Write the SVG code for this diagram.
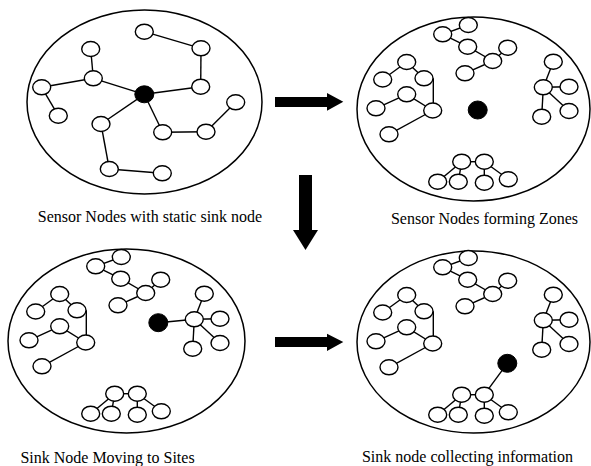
<svg xmlns="http://www.w3.org/2000/svg" width="591" height="466" viewBox="0 0 591 466">
<style>
.field{fill:none;stroke:#000;stroke-width:1.5}
.n{fill:#fff;stroke:#000;stroke-width:1.4}
.s{fill:#000;stroke:#000;stroke-width:1}
.e line{stroke:#000;stroke-width:1.4}
.arrow{fill:#000}
.lbl{font-family:"Liberation Serif","Times New Roman",serif;font-size:16px;fill:#000;text-anchor:middle}
</style>
<rect width="591" height="466" fill="#fff"/>
<!-- fields -->
<g id="fields">
<ellipse class="field" cx="144.5" cy="102" rx="117.5" ry="92"/>
<ellipse class="field" cx="473.5" cy="109" rx="116.5" ry="92"/>
<ellipse class="field" cx="126.5" cy="341" rx="118.5" ry="92"/>
<ellipse class="field" cx="473.5" cy="342" rx="116.5" ry="91"/>
</g>
<!-- connectors -->
<g id="connectors" class="e">
<!-- panel 1 -->
<line x1="144.3" y1="31.7" x2="201" y2="48.3"/>
<line x1="201" y1="48.3" x2="200.7" y2="86.7"/>
<line x1="200.7" y1="86.7" x2="144.3" y2="94.3"/>
<line x1="144.3" y1="94.3" x2="93.3" y2="78.3"/>
<line x1="93.3" y1="78.3" x2="90.7" y2="49"/>
<line x1="93.3" y1="78.3" x2="41.7" y2="87.3"/>
<line x1="41.7" y1="87.3" x2="58.3" y2="115.7"/>
<line x1="144.3" y1="94.3" x2="101" y2="124"/>
<line x1="101" y1="124" x2="109.3" y2="169"/>
<line x1="109.3" y1="169" x2="162.3" y2="173.3"/>
<line x1="144.3" y1="94.3" x2="162.7" y2="132.3"/>
<line x1="162.7" y1="132.3" x2="206" y2="131.7"/>
<line x1="206" y1="131.7" x2="235.7" y2="102.3"/>
<!-- panel 2 -->
<line x1="442.7" y1="34.3" x2="468.3" y2="25"/>
<line x1="442.7" y1="34.3" x2="467.7" y2="46.7"/>
<line x1="467.7" y1="46.7" x2="492.7" y2="61"/>
<line x1="492.7" y1="61" x2="507.7" y2="47.7"/>
<line x1="492.7" y1="61" x2="465" y2="73.3"/>
<line x1="382.7" y1="79.5" x2="406.7" y2="62"/>
<line x1="406.7" y1="62" x2="424" y2="78.3"/>
<line x1="433.3" y1="78.3" x2="433.3" y2="110.5"/>
<line x1="376" y1="108.3" x2="406.7" y2="94.3"/>
<line x1="406.7" y1="94.3" x2="432.7" y2="110.5"/>
<line x1="432.7" y1="110.5" x2="389" y2="134.3"/>
<line x1="553.3" y1="61.7" x2="543.3" y2="87.3"/>
<line x1="543.3" y1="87.3" x2="569" y2="86.7"/>
<line x1="543.3" y1="87.3" x2="569" y2="111"/>
<line x1="543.3" y1="87.3" x2="541.7" y2="116.7"/>
<line x1="437.7" y1="181.7" x2="461.7" y2="161.7"/>
<line x1="461.7" y1="161.7" x2="458.3" y2="181.7"/>
<line x1="461.7" y1="161.7" x2="484.3" y2="161.7"/>
<line x1="484.3" y1="161.7" x2="484.3" y2="182.7"/>
<line x1="484.3" y1="161.7" x2="508.3" y2="179.3"/>
<!-- panel 3 -->
<line x1="95.7" y1="266.3" x2="121.3" y2="257"/>
<line x1="95.7" y1="266.3" x2="120.7" y2="278.7"/>
<line x1="120.7" y1="278.7" x2="145.7" y2="293"/>
<line x1="145.7" y1="293" x2="160.7" y2="279.7"/>
<line x1="145.7" y1="293" x2="118" y2="305.3"/>
<line x1="35.7" y1="311.5" x2="59.7" y2="294"/>
<line x1="59.7" y1="294" x2="77" y2="310.3"/>
<line x1="86.3" y1="310.3" x2="86.3" y2="342.5"/>
<line x1="29" y1="340.3" x2="59.7" y2="326.3"/>
<line x1="59.7" y1="326.3" x2="85.7" y2="342.5"/>
<line x1="85.7" y1="342.5" x2="42" y2="366.3"/>
<line x1="204.3" y1="293.7" x2="194.3" y2="319.3"/>
<line x1="194.3" y1="319.3" x2="220" y2="318.7"/>
<line x1="194.3" y1="319.3" x2="220" y2="343"/>
<line x1="194.3" y1="319.3" x2="192.7" y2="348.7"/>
<line x1="158.3" y1="322.7" x2="194.3" y2="319.3"/>
<line x1="90.7" y1="413.7" x2="114.7" y2="393.7"/>
<line x1="114.7" y1="393.7" x2="111.3" y2="413.7"/>
<line x1="114.7" y1="393.7" x2="137.3" y2="393.7"/>
<line x1="137.3" y1="393.7" x2="137.3" y2="414.7"/>
<line x1="137.3" y1="393.7" x2="161.3" y2="411.3"/>
<!-- panel 4 -->
<line x1="442.7" y1="267.3" x2="468.3" y2="258"/>
<line x1="442.7" y1="267.3" x2="467.7" y2="279.7"/>
<line x1="467.7" y1="279.7" x2="492.7" y2="294"/>
<line x1="492.7" y1="294" x2="507.7" y2="280.7"/>
<line x1="492.7" y1="294" x2="465" y2="306.3"/>
<line x1="382.7" y1="312.5" x2="406.7" y2="295"/>
<line x1="406.7" y1="295" x2="424" y2="311.3"/>
<line x1="433.3" y1="311.3" x2="433.3" y2="343.5"/>
<line x1="376" y1="341.3" x2="406.7" y2="327.3"/>
<line x1="406.7" y1="327.3" x2="432.7" y2="343.5"/>
<line x1="432.7" y1="343.5" x2="389" y2="367.3"/>
<line x1="553.3" y1="294.7" x2="543.3" y2="320.3"/>
<line x1="543.3" y1="320.3" x2="569" y2="319.7"/>
<line x1="543.3" y1="320.3" x2="569" y2="344"/>
<line x1="543.3" y1="320.3" x2="541.7" y2="349.7"/>
<line x1="437.7" y1="414.7" x2="461.7" y2="394.7"/>
<line x1="461.7" y1="394.7" x2="458.3" y2="414.7"/>
<line x1="461.7" y1="394.7" x2="484.3" y2="394.7"/>
<line x1="484.3" y1="394.7" x2="484.3" y2="415.7"/>
<line x1="484.3" y1="394.7" x2="508.3" y2="412.3"/>
<line x1="507.3" y1="363.3" x2="484.3" y2="394.7"/>
</g>
<!-- panel 1 nodes -->
<g id="p1-a"><ellipse class="n" cx="144.3" cy="31.7" rx="9" ry="7.5"/></g>
<g id="p1-b"><ellipse class="n" cx="201" cy="48.3" rx="9" ry="7.5"/></g>
<g id="p1-c"><ellipse class="n" cx="90.7" cy="49" rx="9" ry="7.5"/></g>
<g id="p1-d"><ellipse class="n" cx="93.3" cy="78.3" rx="9" ry="7.5"/></g>
<g id="p1-e"><ellipse class="n" cx="41.7" cy="87.3" rx="9" ry="7.5"/></g>
<g id="p1-f"><ellipse class="n" cx="200.7" cy="86.7" rx="9" ry="7.5"/></g>
<g id="p1-g"><ellipse class="n" cx="235.7" cy="102.3" rx="9" ry="7.5"/></g>
<g id="p1-h"><ellipse class="n" cx="58.3" cy="115.7" rx="9" ry="7.5"/></g>
<g id="p1-i"><ellipse class="n" cx="101" cy="124" rx="9" ry="7.5"/></g>
<g id="p1-j"><ellipse class="n" cx="162.7" cy="132.3" rx="9" ry="7.5"/></g>
<g id="p1-k"><ellipse class="n" cx="206" cy="131.7" rx="9" ry="7.5"/></g>
<g id="p1-l"><ellipse class="n" cx="109.3" cy="169" rx="9" ry="7.5"/></g>
<g id="p1-m"><ellipse class="n" cx="162.3" cy="173.3" rx="9" ry="7.5"/></g>
<g id="p1-sink"><ellipse class="s" cx="144.3" cy="94.3" rx="9.5" ry="8.5"/></g>
<!-- panel 2 nodes -->
<g id="p2-t1"><ellipse class="n" cx="468.3" cy="25" rx="9" ry="7.5"/></g>
<g id="p2-t2"><ellipse class="n" cx="442.7" cy="34.3" rx="9" ry="7.5"/></g>
<g id="p2-t3"><ellipse class="n" cx="467.7" cy="46.7" rx="9" ry="7.5"/></g>
<g id="p2-t4"><ellipse class="n" cx="507.7" cy="47.7" rx="9" ry="7.5"/></g>
<g id="p2-t5"><ellipse class="n" cx="492.7" cy="61" rx="9" ry="7.5"/></g>
<g id="p2-t6"><ellipse class="n" cx="465" cy="73.3" rx="9" ry="7.5"/></g>
<g id="p2-l1"><ellipse class="n" cx="406.7" cy="62" rx="9" ry="7.5"/></g>
<g id="p2-l2"><ellipse class="n" cx="382.7" cy="79.5" rx="9" ry="7.5"/></g>
<g id="p2-l3"><ellipse class="n" cx="424" cy="78.3" rx="9" ry="7.5"/></g>
<g id="p2-l4"><ellipse class="n" cx="406.7" cy="94.3" rx="9" ry="7.5"/></g>
<g id="p2-l5"><ellipse class="n" cx="376" cy="108.3" rx="9" ry="7.5"/></g>
<g id="p2-l6"><ellipse class="n" cx="432.7" cy="110.5" rx="9" ry="7.5"/></g>
<g id="p2-l7"><ellipse class="n" cx="389" cy="134.3" rx="9" ry="7.5"/></g>
<g id="p2-r1"><ellipse class="n" cx="553.3" cy="61.7" rx="9" ry="7.5"/></g>
<g id="p2-r2"><ellipse class="n" cx="543.3" cy="87.3" rx="9" ry="7.5"/></g>
<g id="p2-r3"><ellipse class="n" cx="569" cy="86.7" rx="9" ry="7.5"/></g>
<g id="p2-r4"><ellipse class="n" cx="569" cy="111" rx="9" ry="7.5"/></g>
<g id="p2-r5"><ellipse class="n" cx="541.7" cy="116.7" rx="9" ry="7.5"/></g>
<g id="p2-b1"><ellipse class="n" cx="461.7" cy="161.7" rx="9" ry="7.5"/></g>
<g id="p2-b2"><ellipse class="n" cx="484.3" cy="161.7" rx="9" ry="7.5"/></g>
<g id="p2-b3"><ellipse class="n" cx="437.7" cy="181.7" rx="9" ry="7.5"/></g>
<g id="p2-b4"><ellipse class="n" cx="458.3" cy="181.7" rx="9" ry="7.5"/></g>
<g id="p2-b5"><ellipse class="n" cx="484.3" cy="182.7" rx="9" ry="7.5"/></g>
<g id="p2-b6"><ellipse class="n" cx="508.3" cy="179.3" rx="9" ry="7.5"/></g>
<g id="p2-sink"><ellipse class="s" cx="477.7" cy="110" rx="9.5" ry="9"/></g>
<!-- panel 3 nodes -->
<g id="p3-t1"><ellipse class="n" cx="121.3" cy="257" rx="9" ry="7.5"/></g>
<g id="p3-t2"><ellipse class="n" cx="95.7" cy="266.3" rx="9" ry="7.5"/></g>
<g id="p3-t3"><ellipse class="n" cx="120.7" cy="278.7" rx="9" ry="7.5"/></g>
<g id="p3-t4"><ellipse class="n" cx="160.7" cy="279.7" rx="9" ry="7.5"/></g>
<g id="p3-t5"><ellipse class="n" cx="145.7" cy="293" rx="9" ry="7.5"/></g>
<g id="p3-t6"><ellipse class="n" cx="118" cy="305.3" rx="9" ry="7.5"/></g>
<g id="p3-l1"><ellipse class="n" cx="59.7" cy="294" rx="9" ry="7.5"/></g>
<g id="p3-l2"><ellipse class="n" cx="35.7" cy="311.5" rx="9" ry="7.5"/></g>
<g id="p3-l3"><ellipse class="n" cx="77" cy="310.3" rx="9" ry="7.5"/></g>
<g id="p3-l4"><ellipse class="n" cx="59.7" cy="326.3" rx="9" ry="7.5"/></g>
<g id="p3-l5"><ellipse class="n" cx="29" cy="340.3" rx="9" ry="7.5"/></g>
<g id="p3-l6"><ellipse class="n" cx="85.7" cy="342.5" rx="9" ry="7.5"/></g>
<g id="p3-l7"><ellipse class="n" cx="42" cy="366.3" rx="9" ry="7.5"/></g>
<g id="p3-r1"><ellipse class="n" cx="204.3" cy="293.7" rx="9" ry="7.5"/></g>
<g id="p3-r2"><ellipse class="n" cx="194.3" cy="319.3" rx="9" ry="7.5"/></g>
<g id="p3-r3"><ellipse class="n" cx="220" cy="318.7" rx="9" ry="7.5"/></g>
<g id="p3-r4"><ellipse class="n" cx="220" cy="343" rx="9" ry="7.5"/></g>
<g id="p3-r5"><ellipse class="n" cx="192.7" cy="348.7" rx="9" ry="7.5"/></g>
<g id="p3-b1"><ellipse class="n" cx="114.7" cy="393.7" rx="9" ry="7.5"/></g>
<g id="p3-b2"><ellipse class="n" cx="137.3" cy="393.7" rx="9" ry="7.5"/></g>
<g id="p3-b3"><ellipse class="n" cx="90.7" cy="413.7" rx="9" ry="7.5"/></g>
<g id="p3-b4"><ellipse class="n" cx="111.3" cy="413.7" rx="9" ry="7.5"/></g>
<g id="p3-b5"><ellipse class="n" cx="137.3" cy="414.7" rx="9" ry="7.5"/></g>
<g id="p3-b6"><ellipse class="n" cx="161.3" cy="411.3" rx="9" ry="7.5"/></g>
<g id="p3-sink"><ellipse class="s" cx="158.3" cy="322.7" rx="9.5" ry="9"/></g>
<!-- panel 4 nodes -->
<g id="p4-t1"><ellipse class="n" cx="468.3" cy="258" rx="9" ry="7.5"/></g>
<g id="p4-t2"><ellipse class="n" cx="442.7" cy="267.3" rx="9" ry="7.5"/></g>
<g id="p4-t3"><ellipse class="n" cx="467.7" cy="279.7" rx="9" ry="7.5"/></g>
<g id="p4-t4"><ellipse class="n" cx="507.7" cy="280.7" rx="9" ry="7.5"/></g>
<g id="p4-t5"><ellipse class="n" cx="492.7" cy="294" rx="9" ry="7.5"/></g>
<g id="p4-t6"><ellipse class="n" cx="465" cy="306.3" rx="9" ry="7.5"/></g>
<g id="p4-l1"><ellipse class="n" cx="406.7" cy="295" rx="9" ry="7.5"/></g>
<g id="p4-l2"><ellipse class="n" cx="382.7" cy="312.5" rx="9" ry="7.5"/></g>
<g id="p4-l3"><ellipse class="n" cx="424" cy="311.3" rx="9" ry="7.5"/></g>
<g id="p4-l4"><ellipse class="n" cx="406.7" cy="327.3" rx="9" ry="7.5"/></g>
<g id="p4-l5"><ellipse class="n" cx="376" cy="341.3" rx="9" ry="7.5"/></g>
<g id="p4-l6"><ellipse class="n" cx="432.7" cy="343.5" rx="9" ry="7.5"/></g>
<g id="p4-l7"><ellipse class="n" cx="389" cy="367.3" rx="9" ry="7.5"/></g>
<g id="p4-r1"><ellipse class="n" cx="553.3" cy="294.7" rx="9" ry="7.5"/></g>
<g id="p4-r2"><ellipse class="n" cx="543.3" cy="320.3" rx="9" ry="7.5"/></g>
<g id="p4-r3"><ellipse class="n" cx="569" cy="319.7" rx="9" ry="7.5"/></g>
<g id="p4-r4"><ellipse class="n" cx="569" cy="344" rx="9" ry="7.5"/></g>
<g id="p4-r5"><ellipse class="n" cx="541.7" cy="349.7" rx="9" ry="7.5"/></g>
<g id="p4-b1"><ellipse class="n" cx="461.7" cy="394.7" rx="9" ry="7.5"/></g>
<g id="p4-b2"><ellipse class="n" cx="484.3" cy="394.7" rx="9" ry="7.5"/></g>
<g id="p4-b3"><ellipse class="n" cx="437.7" cy="414.7" rx="9" ry="7.5"/></g>
<g id="p4-b4"><ellipse class="n" cx="458.3" cy="414.7" rx="9" ry="7.5"/></g>
<g id="p4-b5"><ellipse class="n" cx="484.3" cy="415.7" rx="9" ry="7.5"/></g>
<g id="p4-b6"><ellipse class="n" cx="508.3" cy="412.3" rx="9" ry="7.5"/></g>
<g id="p4-sink"><ellipse class="s" cx="507.3" cy="363.3" rx="9.5" ry="9"/></g>
<!-- block arrows -->
<g id="arrows">
<polygon class="arrow" points="275,97 327,97 327,93 343.3,101.8 327,110.7 327,107 275,107"/>
<polygon class="arrow" points="299,175 312,175 312,230 318,230 305.5,250 293,230 299,230"/>
<polygon class="arrow" points="275,337 327,337 327,333.7 343.3,342 327,351 327,347 275,347"/>
</g>
<!-- labels -->
<g id="labels">
<text class="lbl" x="150" y="221.7">Sensor Nodes with static sink node</text>
<text class="lbl" x="484.5" y="224">Sensor Nodes forming Zones</text>
<text class="lbl" x="107.5" y="462.5">Sink Node Moving to Sites</text>
<text class="lbl" x="467.5" y="462">Sink node collecting information</text>
</g>
</svg>
